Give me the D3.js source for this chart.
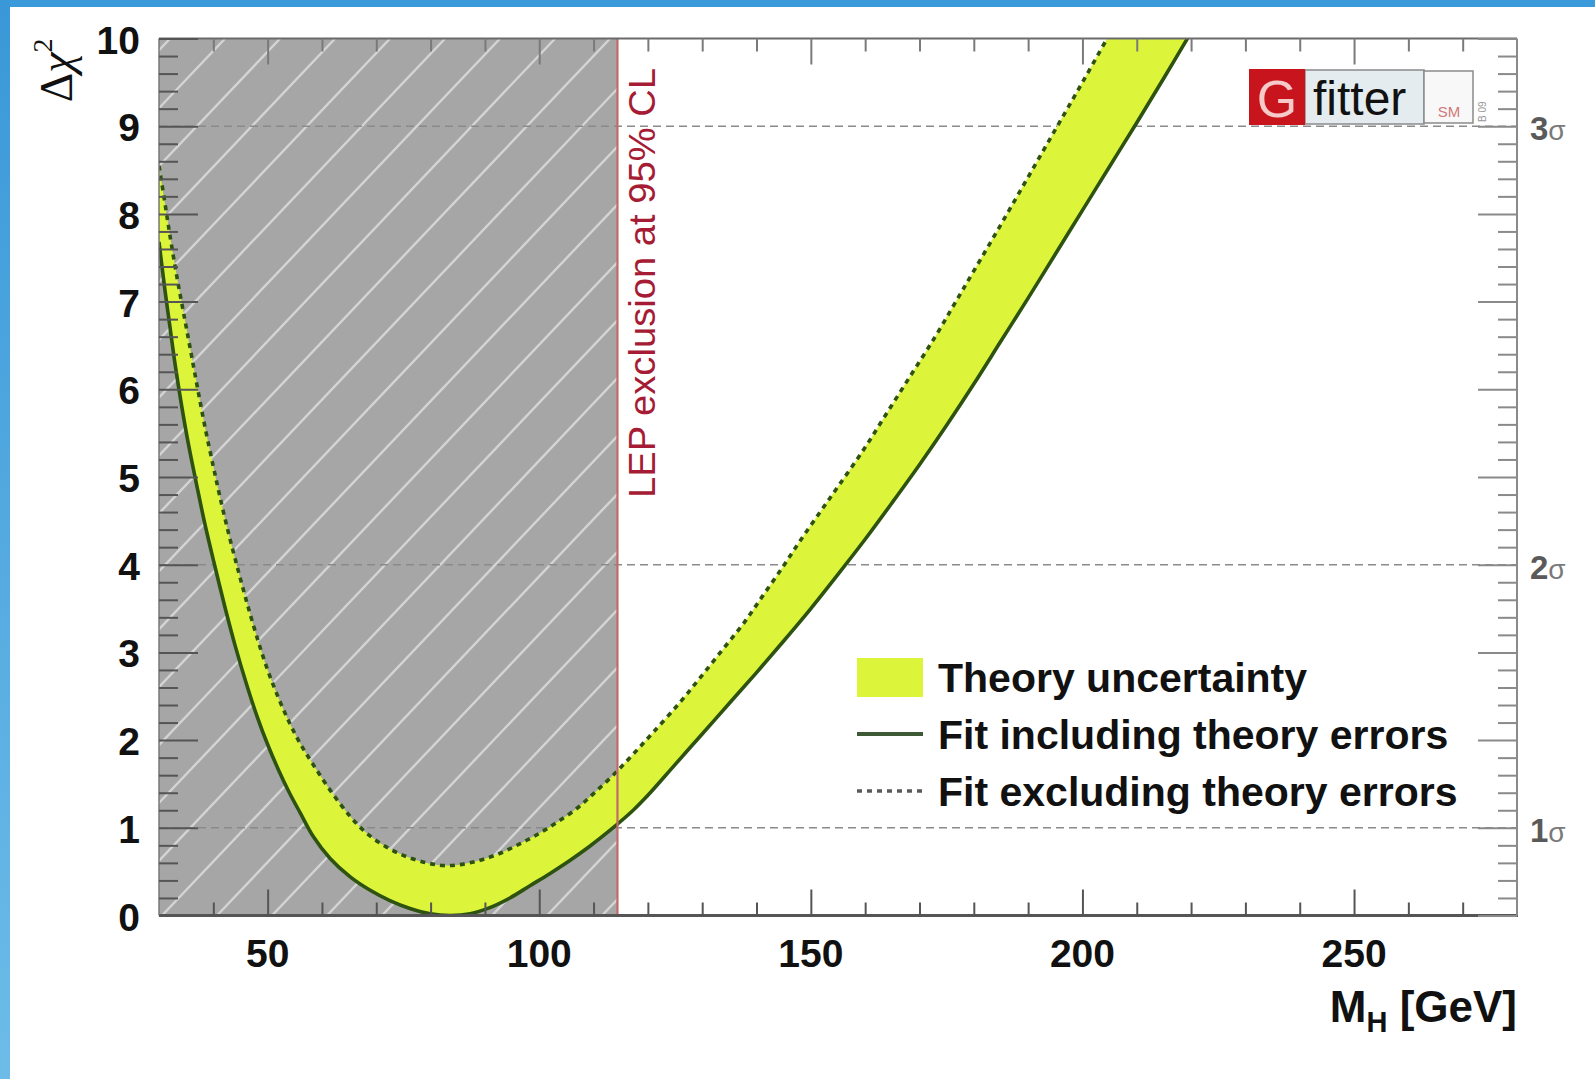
<!DOCTYPE html>
<html><head><meta charset="utf-8">
<script src="https://cdn.jsdelivr.net/npm/d3@7"></script>
<style>body{margin:0;background:#fff;overflow:hidden}svg{display:block}</style>
</head><body>
<svg id="c" width="1595" height="1079"></svg>
<script>
// ---- data ----
const fitInclMass = [30.0,31.1,32.0,33.0,34.2,35.4,36.9,38.5,40.3,42.2,44.0,46.0,48.0,50.0,52.0,54.0,56.0,58.4,61.5,65.2,68.8,72.5,76.2,79.9,83.6,87.3,90.9,94.6,98.3,102.0,105.7,109.3,113.0,117.3,120,125,130,135,140,145,150,155,160,165,170,175,180,185,190,195,200,205,210,215,220];
const fitInclChi2 = [7.68,7.13,6.72,6.27,5.80,5.38,4.92,4.45,3.98,3.50,3.08,2.66,2.28,1.95,1.66,1.40,1.17,0.90,0.65,0.44,0.29,0.17,0.08,0.02,0.0,0.02,0.09,0.20,0.34,0.48,0.63,0.79,0.97,1.20,1.37,1.72,2.07,2.42,2.77,3.13,3.50,3.89,4.29,4.71,5.14,5.59,6.06,6.55,7.04,7.54,8.04,8.54,9.04,9.55,10.07];
const fitExclMass = [30.0,31.1,32.0,33.3,34.8,36.0,37.2,38.5,40.0,41.2,42.8,44.6,46.4,48.3,50.0,52.0,54.0,56.0,58.4,61.5,65.2,68.2,71.9,75.6,79.3,82.3,85.4,89.1,92.8,96.5,100.1,103.2,106.9,110.0,113.6,117.3,121.0,125.9,129.6,133.6,137.6,141.2,144.9,148.0,151.7,155.1,159.7,164.0,168.6,172.9,176.5,180,185,190,195,200,205];
const fitExclChi2 = [8.55,8.12,7.76,7.28,6.78,6.38,5.98,5.56,5.12,4.78,4.36,3.93,3.52,3.12,2.80,2.48,2.20,1.96,1.72,1.43,1.13,0.94,0.78,0.67,0.60,0.57,0.58,0.63,0.71,0.82,0.94,1.06,1.22,1.39,1.60,1.84,2.09,2.43,2.71,3.02,3.33,3.65,3.98,4.27,4.60,4.90,5.31,5.73,6.18,6.60,6.98,7.35,7.88,8.42,8.96,9.50,10.05];
const lepLimit = 114.4;
const xDomain = [30, 280];
const yDomain = [0, 10];
const xMajorTicks = [50, 100, 150, 200, 250];
const yMajorTicks = [0,1,2,3,4,5,6,7,8,9,10];
const gridLevels = [1, 4, 9];
const sigmaLabels = ["1σ", "2σ", "3σ"];
const legendLabels = ["Theory uncertainty", "Fit including theory errors", "Fit excluding theory errors"];
const lepText = "LEP exclusion at 95% CL";

// ---- layout ----
const L = 159, R = 1517, T = 38.5, B = 915.5;
const svg = d3.select("#c");
const x = d3.scaleLinear().domain(xDomain).range([L, R]);
const y = d3.scaleLinear().domain(yDomain).range([B, T]);
const FONT = "'Liberation Sans', Arial, Helvetica, sans-serif";

// border
const defs = svg.append("defs");
const g1 = defs.append("linearGradient").attr("id","lb").attr("x1",0).attr("y1",0).attr("x2",0).attr("y2",1);
g1.append("stop").attr("offset","0%").attr("stop-color","#3a98d8");
g1.append("stop").attr("offset","100%").attr("stop-color","#6dbce8");
svg.append("rect").attr("x",0).attr("y",0).attr("width",1595).attr("height",1079).attr("fill","#fff");
svg.append("rect").attr("x",0).attr("y",0).attr("width",1595).attr("height",7).attr("fill","#3b9ad9");
svg.append("rect").attr("x",0).attr("y",0).attr("width",10).attr("height",1079).attr("fill","url(#lb)");

defs.append("clipPath").attr("id","plot").append("rect").attr("x",L).attr("y",T).attr("width",R-L).attr("height",B-T);
defs.append("clipPath").attr("id","excl").append("rect").attr("x",L).attr("y",T).attr("width",x(lepLimit)-L).attr("height",B-T);

// excluded region + hatch
svg.append("rect").attr("x",L).attr("y",T).attr("width",x(lepLimit)-L).attr("height",B-T).attr("fill","#a6a6a6");
const hatch = svg.append("g").attr("clip-path","url(#excl)");
const hs = 55, H = B - T;
for (let s = L - H; s < x(lepLimit) + 10; s += hs) {
  hatch.append("line").attr("x1", s).attr("y1", B).attr("x2", s + H*0.95).attr("y2", T)
    .attr("stroke","#d4d4d4").attr("stroke-width",2.4);
}

// grid lines
const grid = svg.append("g");
gridLevels.forEach(v => {
  grid.append("line").attr("x1",L).attr("x2",R).attr("y1",y(v)).attr("y2",y(v))
    .attr("stroke","#8a8a8a").attr("stroke-width",1.6).attr("stroke-dasharray","8,5");
});

// band
const pSolid = fitInclMass.map((m,i)=>[x(m), y(fitInclChi2[i])]);
const pDash = fitExclMass.map((m,i)=>[x(m), y(fitExclChi2[i])]);
const lineGen = d3.line().curve(d3.curveCatmullRom.alpha(0.5));
const bandPath = lineGen(pDash) + "L" + lineGen(pSolid.slice().reverse()).slice(1) + "Z";
const pg = svg.append("g").attr("clip-path","url(#plot)");
pg.append("path").attr("d", bandPath).attr("fill","#dcf53a").attr("stroke","none");

// LEP line
svg.append("line").attr("x1",x(lepLimit)).attr("x2",x(lepLimit)).attr("y1",T).attr("y2",B)
  .attr("stroke","#c06a6a").attr("stroke-width",2.2);

// curves
pg.append("path").attr("d", lineGen(pSolid)).attr("fill","none").attr("stroke","#2e5210").attr("stroke-width",3.6);
pg.append("path").attr("d", lineGen(pDash)).attr("fill","none").attr("stroke","#2e5210").attr("stroke-width",3.6).attr("stroke-dasharray","5,5");

// frame
const fr = svg.append("g");
fr.append("line").attr("x1",L).attr("x2",R).attr("y1",T).attr("y2",T).attr("stroke","#6a6a6a").attr("stroke-width",2);
fr.append("line").attr("x1",L).attr("x2",R+1).attr("y1",B).attr("y2",B).attr("stroke","#555").attr("stroke-width",3);
fr.append("line").attr("x1",L).attr("x2",L).attr("y1",T).attr("y2",B).attr("stroke","#777").attr("stroke-width",1.5);
fr.append("line").attr("x1",R).attr("x2",R).attr("y1",T).attr("y2",B).attr("stroke","#8a8a8a").attr("stroke-width",2);

// axes with d3 (ticks inside)
const xMinor = d3.range(40, 280, 10).filter(v => v % 50 !== 0);
const yMinor = d3.range(0, 10.001, 0.2).filter(v => Math.abs(v - Math.round(v)) > 1e-6);
function styleAxis(g, col) {
  g.select(".domain").remove();
  g.selectAll("line").attr("stroke", col).attr("stroke-width", 2);
  g.selectAll("text").remove();
}
svg.append("g").attr("transform",`translate(0,${B})`).call(d3.axisTop(x).tickValues(xMajorTicks).tickSize(26)).call(g=>styleAxis(g,"#555"));
svg.append("g").attr("transform",`translate(0,${B})`).call(d3.axisTop(x).tickValues(xMinor).tickSize(13)).call(g=>styleAxis(g,"#555"));
svg.append("g").attr("transform",`translate(0,${T})`).call(d3.axisBottom(x).tickValues(xMajorTicks).tickSize(26)).call(g=>styleAxis(g,"#7a7a7a"));
svg.append("g").attr("transform",`translate(0,${T})`).call(d3.axisBottom(x).tickValues(xMinor).tickSize(13)).call(g=>styleAxis(g,"#7a7a7a"));
svg.append("g").attr("transform",`translate(${L},0)`).call(d3.axisRight(y).tickValues(yMajorTicks).tickSize(39)).call(g=>styleAxis(g,"#555"));
svg.append("g").attr("transform",`translate(${L},0)`).call(d3.axisRight(y).tickValues(yMinor).tickSize(19)).call(g=>styleAxis(g,"#555"));
svg.append("g").attr("transform",`translate(${R},0)`).call(d3.axisLeft(y).tickValues(yMajorTicks).tickSize(39)).call(g=>styleAxis(g,"#8a8a8a"));
svg.append("g").attr("transform",`translate(${R},0)`).call(d3.axisLeft(y).tickValues(yMinor).tickSize(19)).call(g=>styleAxis(g,"#8a8a8a"));

// tick labels
const tl = svg.append("g").attr("font-family",FONT).attr("font-weight","bold").attr("fill","#111");
yMajorTicks.forEach(v => {
  tl.append("text").attr("x",140).attr("y",y(v)+15).attr("text-anchor","end").attr("font-size",39).text(v);
});
xMajorTicks.forEach(v => {
  tl.append("text").attr("x",x(v)).attr("y",967).attr("text-anchor","middle").attr("font-size",39).text(v);
});
sigmaLabels.forEach((s,i) => {
  const lv = gridLevels[i];
  const t = svg.append("text").attr("x",1530).attr("y",y(lv)+14).attr("font-family",FONT).attr("font-size",33).attr("fill","#5a5a5a").attr("font-weight","bold");
  t.append("tspan").text(s[0]);
  t.append("tspan").attr("font-weight","normal").attr("font-size",28).attr("fill","#7a7a7a").text(s.slice(1));
});

// axis titles
const xt = svg.append("text").attr("x",R).attr("y",1022).attr("text-anchor","end").attr("font-family",FONT).attr("font-weight","bold").attr("font-size",44).attr("fill","#111");
xt.append("tspan").text("M");
xt.append("tspan").attr("font-size",29).attr("dy",10).text("H");
xt.append("tspan").attr("dy",-10).text(" [GeV]");

const yt = svg.append("text").attr("transform",`translate(72,${T}) rotate(-90)`).attr("text-anchor","end")
  .attr("font-family","'Liberation Serif','DejaVu Serif',serif").attr("font-size",46).attr("fill","#111");
yt.append("tspan").text("Δ");
yt.append("tspan").attr("font-style","italic").text("χ");
yt.append("tspan").attr("font-size",28).attr("dy",-20).text("2");

// LEP text
svg.append("text").attr("transform",`translate(655,498) rotate(-90)`).attr("font-family",FONT)
  .attr("font-size",37).attr("fill","#a51c34").attr("textLength",430).attr("lengthAdjust","spacingAndGlyphs").text(lepText);

// logo
const lg = svg.append("g");
lg.append("rect").attr("x",1305).attr("y",70).attr("width",119).attr("height",54).attr("fill","#e4ecef").attr("stroke","#8a8a8a").attr("stroke-width",1.5);
lg.append("rect").attr("x",1424).attr("y",71).attr("width",49).attr("height",52).attr("fill","#f8f8f8").attr("stroke","#8a8a8a").attr("stroke-width",1.5);
lg.append("rect").attr("x",1249).attr("y",69).attr("width",56).attr("height",56).attr("fill","#c8141c");
lg.append("text").attr("x",1277).attr("y",117).attr("text-anchor","middle").attr("font-family",FONT).attr("font-size",52).attr("fill","#f7caca").text("G");
lg.append("text").attr("x",1313).attr("y",115).attr("font-family",FONT).attr("font-size",48).attr("fill","#111").text("fitter");
lg.append("text").attr("x",1449).attr("y",117).attr("text-anchor","middle").attr("font-family",FONT).attr("font-size",15).attr("fill","#d07878").text("SM");
lg.append("text").attr("transform","translate(1486,122) rotate(-90)").attr("font-family",FONT).attr("font-size",10).attr("fill","#999").text("B 09");

// legend
const leg = svg.append("g").attr("font-family",FONT).attr("font-weight","bold").attr("font-size",41).attr("fill","#111");
const rowY = [677, 734, 791];
leg.append("rect").attr("x",857).attr("y",rowY[0]-19).attr("width",66).attr("height",39).attr("fill","#dcf53a");
leg.append("line").attr("x1",857).attr("x2",923).attr("y1",rowY[1]).attr("y2",rowY[1]).attr("stroke","#3d5a35").attr("stroke-width",4);
leg.append("line").attr("x1",857).attr("x2",923).attr("y1",rowY[2]).attr("y2",rowY[2]).attr("stroke","#5a5a5a").attr("stroke-width",3.5).attr("stroke-dasharray","5,5");
legendLabels.forEach((s,i)=>{
  leg.append("text").attr("x",938).attr("y",rowY[i]+15).text(s);
});
</script>
</body></html>
